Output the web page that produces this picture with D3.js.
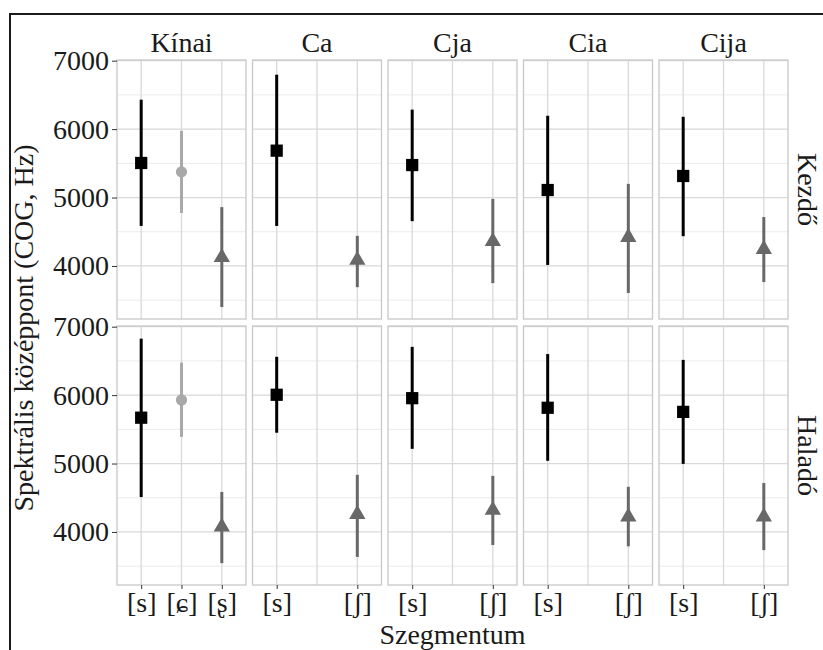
<!DOCTYPE html>
<html>
<head>
<meta charset="utf-8">
<script src="https://cdn.jsdelivr.net/npm/d3@7"></script>
<style>
    body { margin: 0; background: #ffffff; }
    svg { display: block; }
    svg text { font-family: "Liberation Serif", "DejaVu Serif", "Noto Serif", Tinos, serif; }
</style>
</head>
<body>
<div id="chart"></div>
<script>
const panelNames = ["Kínai", "Ca", "Cja", "Cia", "Cija"];
const rowNames = ["Kezdő", "Haladó"];
const segmentLabels = [["[s]", "[ɕ]", "[ʂ]"], ["[s]", "[ʃ]"], ["[s]", "[ʃ]"], ["[s]", "[ʃ]"], ["[s]", "[ʃ]"]];
const segmentSlots = [[1, 2, 3], [1, 3], [1, 3], [1, 3], [1, 3]];

const kezdoMean = [[5505, 5375, 4125], [5685, 4085], [5475, 4360], [5110, 4420], [5315, 4245]];
const kezdoLow = [[4585, 4775, 3400], [4585, 3690], [4655, 3750], [4015, 3605], [4435, 3765]];
const kezdoHigh = [[6430, 5975, 4860], [6795, 4440], [6285, 4980], [6195, 5200], [6180, 4715]];

const haladoMean = [[5670, 5930, 4075], [6005, 4260], [5955, 4320], [5815, 4220], [5755, 4220]];
const haladoLow = [[4510, 5390, 3545], [5450, 3635], [5215, 3810], [5040, 3790], [4995, 3735]];
const haladoHigh = [[6825, 6475, 4585], [6560, 4835], [6705, 4820], [6600, 4660], [6515, 4715]];

const yTicks = [4000, 5000, 6000, 7000];
const yMinorTicks = [3500, 4500, 5500, 6500];

const FONT = "Liberation Serif";
const SEGMENT_STYLE = {
    "[s]": { color: "#000000", symbol: d3.symbolSquare, size: 150 },
    "[ɕ]": { color: "#a9a9a9", symbol: d3.symbolCircle, size: 100 },
    "[ʂ]": { color: "#686868", symbol: d3.symbolTriangle, size: 115 },
    "[ʃ]": { color: "#686868", symbol: d3.symbolTriangle, size: 115 }
};

function buildRows() {
    const sets = [
        [kezdoMean, kezdoLow, kezdoHigh],
        [haladoMean, haladoLow, haladoHigh]
    ];
    return rowNames.map((row, r) => panelNames.map((panel, p) =>
        segmentLabels[p].map((seg, s) => ({
            row,
            panel,
            segment: seg,
            slot: segmentSlots[p][s],
            mean: sets[r][0][p][s],
            low: sets[r][1][p][s],
            high: sets[r][2][p][s]
        }))
    ));
}

function drawChart() {
    const width = 823;
    const height = 650;

    const svg = d3.select("#chart")
        .append("svg")
        .attr("width", width)
        .attr("height", height);

    // outer frame (runs off the right and bottom edges)
    svg.append("rect")
        .attr("x", 10)
        .attr("y", 14)
        .attr("width", 900)
        .attr("height", 900)
        .attr("fill", "none")
        .attr("stroke", "#1a1a1a")
        .attr("stroke-width", 2);

    const col = d3.scaleBand()
        .domain(panelNames)
        .range([117, 788])
        .paddingInner(0.048);

    const rowBand = d3.scaleBand()
        .domain(rowNames)
        .range([60, 585])
        .paddingInner(0.0263);

    const x = d3.scaleLinear()
        .domain([0.4, 3.6])
        .range([0, col.bandwidth()]);

    const y = d3.scaleLinear()
        .domain([3225, 7010])
        .range([rowBand.bandwidth(), 0]);

    const rows = buildRows();

    rows.forEach((rowData, r) => {
        rowData.forEach((panelData, p) => {
            const g = svg.append("g")
                .attr("transform", `translate(${col(panelNames[p])},${rowBand(rowNames[r])})`);

            g.selectAll(".minor")
                .data(yMinorTicks)
                .enter()
                .append("line")
                .attr("x1", 0)
                .attr("x2", col.bandwidth())
                .attr("y1", d => y(d))
                .attr("y2", d => y(d))
                .attr("stroke", "#ebebeb")
                .attr("stroke-width", 1);

            g.selectAll(".major")
                .data(yTicks)
                .enter()
                .append("line")
                .attr("x1", 0)
                .attr("x2", col.bandwidth())
                .attr("y1", d => y(d))
                .attr("y2", d => y(d))
                .attr("stroke", "#d9d9d9")
                .attr("stroke-width", 1.3);

            g.selectAll(".vgrid")
                .data([1, 2, 3])
                .enter()
                .append("line")
                .attr("x1", d => x(d))
                .attr("x2", d => x(d))
                .attr("y1", 0)
                .attr("y2", rowBand.bandwidth())
                .attr("stroke", "#d9d9d9")
                .attr("stroke-width", 1.3);

            g.append("rect")
                .attr("width", col.bandwidth())
                .attr("height", rowBand.bandwidth())
                .attr("fill", "none")
                .attr("stroke", "#c8c8c8")
                .attr("stroke-width", 1.3);

            g.selectAll(".err")
                .data(panelData)
                .enter()
                .append("line")
                .attr("x1", d => x(d.slot))
                .attr("x2", d => x(d.slot))
                .attr("y1", d => y(d.low))
                .attr("y2", d => y(d.high))
                .attr("stroke", d => SEGMENT_STYLE[d.segment].color)
                .attr("stroke-width", 3);

            g.selectAll(".pt")
                .data(panelData)
                .enter()
                .append("path")
                .attr("transform", d => `translate(${x(d.slot)},${y(d.mean)})`)
                .attr("d", d => d3.symbol().type(SEGMENT_STYLE[d.segment].symbol).size(SEGMENT_STYLE[d.segment].size)())
                .attr("fill", d => SEGMENT_STYLE[d.segment].color);

            if (p === 0) {
                const yAxis = g.append("g")
                    .call(d3.axisLeft(y).tickValues(yTicks).tickSize(5).tickPadding(3).tickFormat(d3.format("d")));
                yAxis.select(".domain").remove();
                yAxis.attr("font-family", null).attr("font-size", null);
                yAxis.selectAll("line").attr("stroke", "#333333");
                yAxis.selectAll("text")
                    .attr("font-family", FONT)
                    .attr("font-size", 28)
                    .attr("fill", "#1a1a1a");
            }

            if (r === rowNames.length - 1) {
                const xAxis = g.append("g")
                    .attr("transform", `translate(0,${rowBand.bandwidth()})`)
                    .call(d3.axisBottom(x)
                        .tickValues(segmentSlots[p])
                        .tickSize(4)
                        .tickPadding(3)
                        .tickFormat((d, i) => segmentLabels[p][i]));
                xAxis.select(".domain").remove();
                xAxis.attr("font-family", null).attr("font-size", null);
                xAxis.selectAll("line").attr("stroke", "#333333");
                xAxis.selectAll("text")
                    .attr("font-family", FONT)
                    .attr("font-size", 28)
                    .attr("fill", "#1a1a1a");
            }
        });
    });

    // column strips
    svg.selectAll(".strip-x")
        .data(panelNames)
        .enter()
        .append("text")
        .attr("x", d => col(d) + col.bandwidth() / 2)
        .attr("y", 52)
        .attr("text-anchor", "middle")
        .attr("font-family", FONT)
        .attr("font-size", 28)
        .attr("fill", "#1a1a1a")
        .text(d => d);

    // row strips
    svg.selectAll(".strip-y")
        .data(rowNames)
        .enter()
        .append("text")
        .attr("transform", d => `translate(808,${rowBand(d) + rowBand.bandwidth() / 2}) rotate(90)`)
        .attr("text-anchor", "middle")
        .attr("dy", "0.35em")
        .attr("font-family", FONT)
        .attr("font-size", 28)
        .attr("fill", "#1a1a1a")
        .text(d => d);

    svg.append("text")
        .attr("transform", "translate(33,328) rotate(-90)")
        .attr("text-anchor", "middle")
        .attr("font-family", FONT)
        .attr("font-size", 28)
        .attr("fill", "#1a1a1a")
        .text("Spektrális középpont (COG, Hz)");

    svg.append("text")
        .attr("x", (col(panelNames[0]) + col(panelNames[4]) + col.bandwidth()) / 2)
        .attr("y", 644)
        .attr("text-anchor", "middle")
        .attr("font-family", FONT)
        .attr("font-size", 28)
        .attr("fill", "#1a1a1a")
        .text("Szegmentum");
}

drawChart();
</script>
</body>
</html>
